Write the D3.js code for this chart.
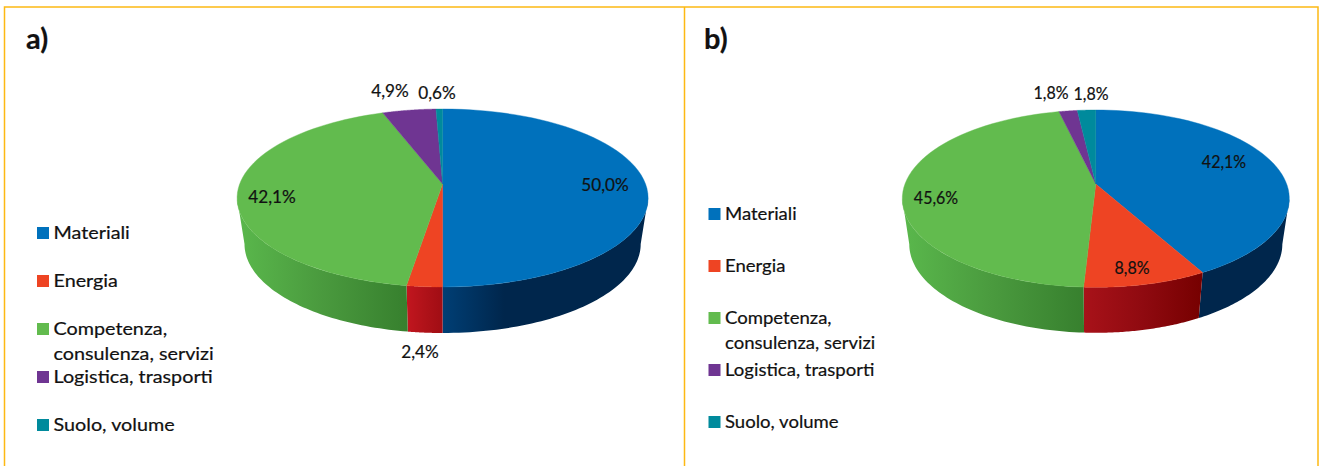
<!DOCTYPE html>
<html lang="it">
<head>
<meta charset="UTF-8">
<title>Pie charts</title>
<script src="https://d3js.org/d3.v7.min.js"></script>
<style>
	html, body { margin: 0; padding: 0; background: #fff; overflow: hidden; }
	svg { display: block; }
	text { font-family: Lato, "Open Sans", sans-serif; fill: #111; stroke: #111; stroke-width: 0.2; }
</style>
</head>
<body>
<svg id="chart" width="1319" height="466"></svg>
<script>
	const categories = ['Materiali', 'Energia', 'Competenza,\nconsulenza, servizi', 'Logistica, trasporti', 'Suolo, volume']
	const valuesA = [50.0, 2.4, 42.1, 4.9, 0.6]
	const valuesB = [42.1, 8.8, 45.6, 1.8, 1.8]
	const labelsA = ['50,0%', '2,4%', '42,1%', '4,9%', '0,6%']
	const labelsB = ['42,1%', '8,8%', '45,6%', '1,8%', '1,8%']

	const colors = ['#0071bc', '#ee4423', '#62bb4e', '#6f3592', '#008a9c']
	// side wall gradient, left to right, per slice
	const wallColorsA = [['#003f75', '#00264c', '#00264c'], ['#c2161f', '#b01219', '#a00d14'], ['#5ab84c', '#4a9a3e', '#37802e'], ['#4a2a66', '#4a2a66', '#4a2a66'], ['#005c68', '#005c68', '#005c68']]
	const wallColorsB = [['#00264c', '#00264c', '#00264c'], ['#a81219', '#8f0a10', '#760000'], ['#5ab84c', '#4a9a3e', '#37802e'], ['#4a2a66', '#4a2a66', '#4a2a66'], ['#005c68', '#005c68', '#005c68']]

	// screen layout of the two panels
	const panelA = {
		title: 'a)', titleX: 26, values: valuesA, labels: labelsA, walls: wallColorsA,
		cx: 442.6, cy: 184, rx: 205.5, top: 75, bottom: 103, depth: 46, taper: 0.964,
		labelAt: [[605, 185], [420, 352], [272, 197], [390, 91], [437, 93]],
		labelStretch: 1.04, legendStretch: 1.13,
		legendX: 37, legendY: [233, 281, 329, 377, 425]
	}
	const panelB = {
		title: 'b)', titleX: 704, values: valuesB, labels: labelsB, walls: wallColorsB,
		cx: 1095.8, cy: 184, rx: 193.5, top: 74, bottom: 103.3, depth: 45.5, taper: 0.964,
		labelAt: [[1224, 162], [1132, 268], [936, 198], [1051, 93], [1091, 94]],
		labelStretch: 0.97, legendStretch: 1.06,
		legendX: 708.5, legendY: [214, 266, 318, 370, 422]
	}

	const svg = d3.select('#chart')
	const defs = svg.append('defs')

	// frame
	const frame = '#fdb913'
	svg.append('path')
		.attr('d', 'M4.5,466V7H1318V466M684.5,7V466')
		.attr('fill', 'none').attr('stroke', frame).attr('stroke-width', 1.5)

	function drawPanel(p, id) {
		const g = svg.append('g')
		const pie = d3.pie().sort(null)(p.values)

		// tilted disc: a circle seen in perspective, so the centre sits above the middle of the ellipse
		const k = (p.bottom - p.top) / (p.bottom + p.top)
		const A = p.top * (1 + k)
		const B = p.rx * Math.sqrt(1 - k * k)
		const project = (a) => {
			const w = 1 + k * Math.cos(a)
			return [p.cx + B * Math.sin(a) / w, p.cy - A * Math.cos(a) / w]
		}
		// wall is visible between the two widest points of the ellipse
		const wallFrom = Math.acos(-k)
		const wallTo = 2 * Math.PI - wallFrom
		const steps = (a0, a1) => d3.range(0, 61).map(i => a0 + (a1 - a0) * i / 60)
		const line = d3.line()

		pie.forEach((d, i) => {
			const a0 = Math.max(d.startAngle, wallFrom)
			const a1 = Math.min(d.endAngle, wallTo)
			if(a1 <= a0) return
			const pts = steps(a0, a1).map(project)
			const xs = d3.extent(pts, q => q[0])
			const grad = defs.append('linearGradient')
				.attr('id', `wall-${id}-${i}`)
				.attr('gradientUnits', 'userSpaceOnUse')
				.attr('x1', xs[0]).attr('x2', xs[1]).attr('y1', 0).attr('y2', 0)
			const stops = i == 0 && id == 'a' ? [0, 0.3, 1] : [0, 0.5, 1]
			p.walls[i].forEach((c, j) => grad.append('stop').attr('offset', stops[j]).attr('stop-color', c))
			// the lower rim is a little narrower, the sides converge downward
			const lower = pts.map(q => [p.cx + (q[0] - p.cx) * p.taper, q[1] + p.depth]).reverse()
			g.append('path')
				.attr('d', line(pts.concat(lower)) + 'Z')
				.attr('fill', `url(#wall-${id}-${i})`)
		})

		pie.forEach((d, i) => {
			const pts = [[p.cx, p.cy]].concat(steps(d.startAngle, d.endAngle).map(project))
			g.append('path')
				.attr('d', line(pts) + 'Z')
				.attr('fill', colors[i])
				.attr('stroke', colors[i]).attr('stroke-width', 0.4)
		})

		p.labels.forEach((t, i) => {
			g.append('text')
				.attr('transform', `translate(${p.labelAt[i][0]},${p.labelAt[i][1]}) scale(${p.labelStretch},1)`)
				.attr('text-anchor', 'middle').attr('dy', '0.36em')
				.attr('font-size', 16.5)
				.text(t)
		})

		g.append('text')
			.attr('x', p.titleX).attr('y', 49)
			.attr('font-size', 29).attr('font-weight', 700)
			.text(p.title)

		categories.forEach((c, i) => {
			const y = p.legendY[i]
			g.append('rect')
				.attr('x', p.legendX).attr('y', y - 6)
				.attr('width', 12).attr('height', 12)
				.attr('fill', colors[i])
			c.split('\n').forEach((part, j) => {
				g.append('text')
					.attr('transform', `translate(${p.legendX + 16.5},${y + j * 25}) scale(${p.legendStretch},1)`)
					.attr('dy', '0.35em')
					.attr('font-size', 17.5)
					.text(part)
			})
		})
	}

	drawPanel(panelA, 'a')
	drawPanel(panelB, 'b')
</script>
</body>
</html>
